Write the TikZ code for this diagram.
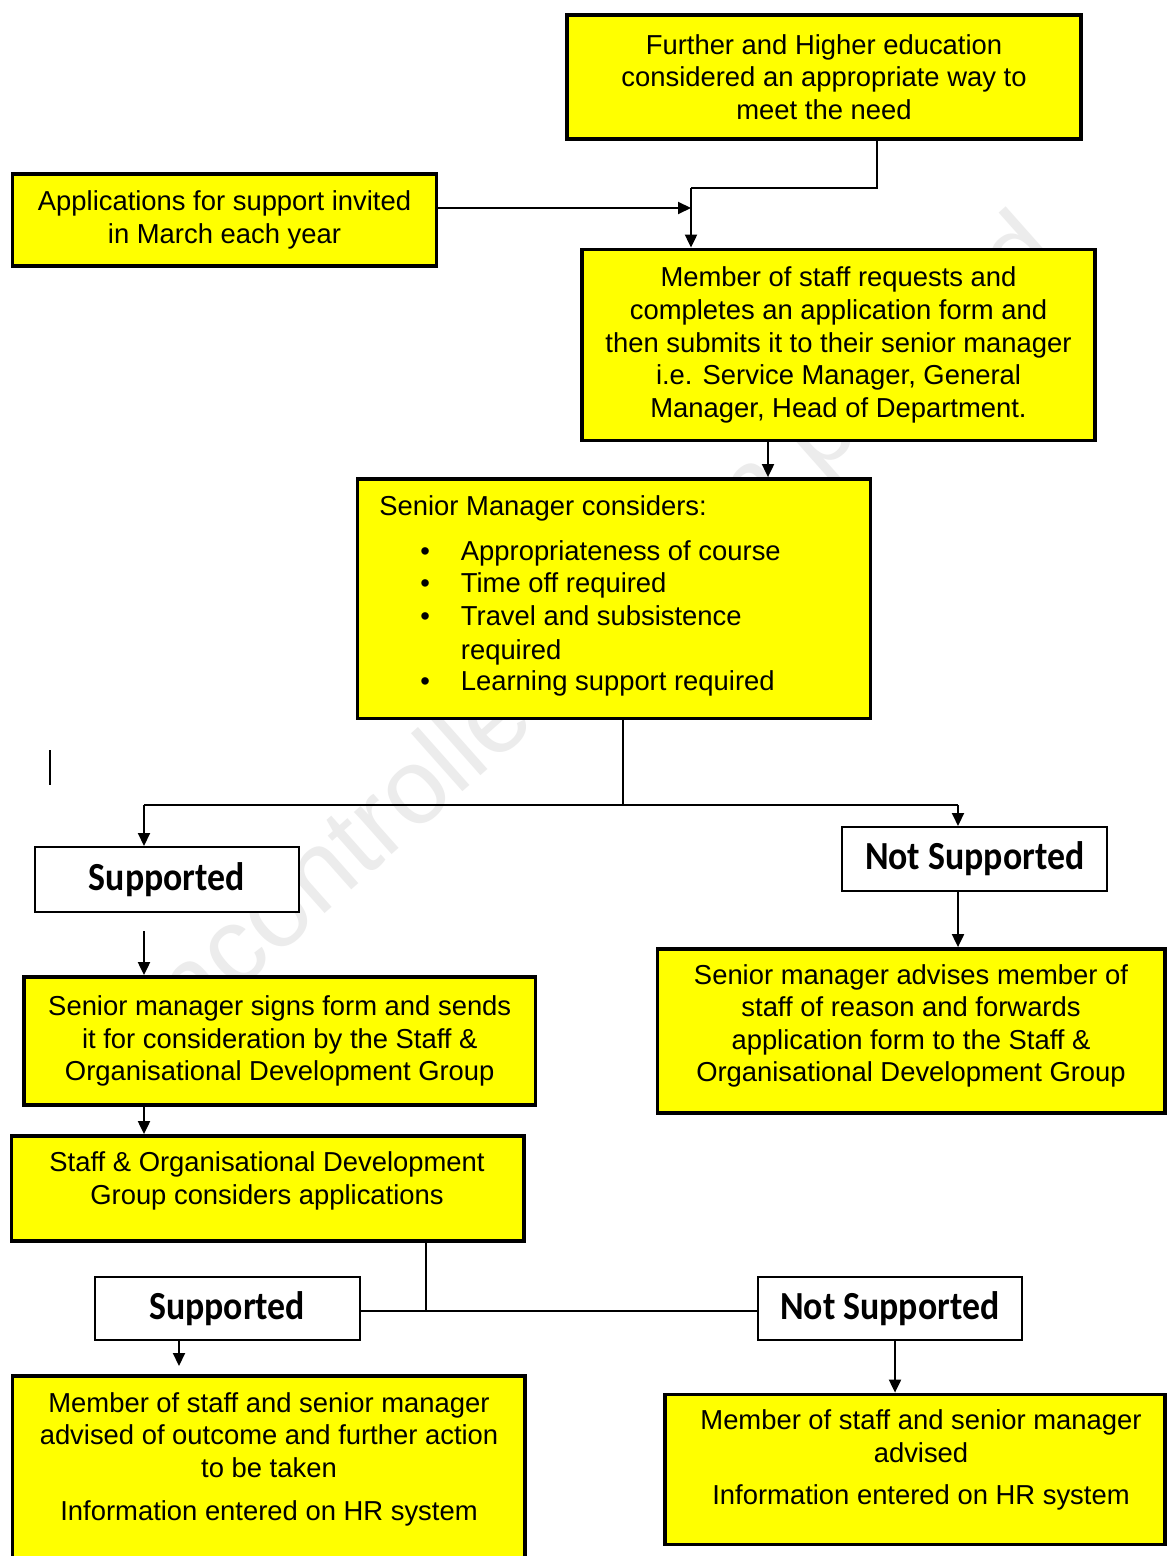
\documentclass[tikz,border=0pt]{standalone}
\usepackage{fontspec}
\usepackage{graphicx}
\setmainfont{Liberation Sans}
\newfontfamily\lblfont{Carlito}
\usetikzlibrary{arrows.meta}

\definecolor{boxyellow}{RGB}{255,255,0}
\definecolor{wmgray}{RGB}{236,236,236}

\newcommand\flowfont{\fontsize{13.7pt}{16.3pt}\selectfont}
\newcommand\lbltext[1]{\scalebox{0.9}[1]{\lblfont\bfseries\fontsize{19.9pt}{22pt}\selectfont #1}}

\tikzset{
  ybox/.style={draw=black, line width=1.9pt, fill=boxyellow, align=center, inner sep=0pt, font=\flowfont},
  wbox/.style={draw=black, line width=1pt, fill=white, inner sep=0pt},
  btext/.style={align=center, inner sep=0pt, font=\flowfont},
  ltext/.style={inner sep=0pt, font=\flowfont, anchor=base west},
  conn/.style={line width=1pt},
  arr/.style={conn, -{Triangle[length=6.5pt,width=6pt]}},
}

\begin{document}
\begin{tikzpicture}[x=0.5pt, y=-0.5pt]
  \useasboundingbox (0,0) rectangle (1167,1556);
  \clip (0,0) rectangle (1167,1556);
  \fill[white] (0,0) rectangle (1167,1556);

  % faint watermark behind the chart
  \node[rotate=41.6, anchor=base, inner sep=0pt, text=wmgray,
        font=\fontsize{53.5pt}{56pt}\selectfont] (wm) at (598,672) {Uncontrolled when printed};

  % boxes
  \node[ybox, minimum width=257pt, minimum height=62pt] (A) at (824,77)
    {Further and Higher education\\considered an appropriate way to\\meet the need};
  \node[ybox, minimum width=212pt, minimum height=46pt] (B) at (224.5,220)
    {Applications for support invited\\in March each year};
  \node[ybox, minimum width=256.5pt, minimum height=95.5pt] (C) at (838.5,345)
    {Member of staff requests and\\completes an application form and\\then submits it to their senior manager\\i.e. Service Manager, General\\Manager, Head of Department.};

  \node[ybox, minimum width=256.5pt, minimum height=119.75pt] (D) at (614,598.75) {};
  \node[ltext] (D0) at (379,515) {Senior Manager considers:};
  \node[ltext] (D1) at (420,560) {\makebox[20.25pt][l]{•}Appropriateness of course};
  \node[ltext] (D2) at (420,592) {\makebox[20.25pt][l]{•}Time off required};
  \node[ltext] (D3) at (420,625) {\makebox[20.25pt][l]{•}Travel and subsistence};
  \node[ltext] (D3b) at (460.5,659) {required};
  \node[ltext] (D4) at (420,690) {\makebox[20.25pt][l]{•}Learning support required};

  \node[wbox, minimum width=131.75pt, minimum height=32.25pt] (E) at (166.75,879.25) {\lbltext{Supported}};
  \node[wbox, minimum width=132.85pt, minimum height=32pt] (F) at (974.6,859) {\lbltext{Not Supported}};

  \node[ybox, minimum width=255.75pt, minimum height=64pt] (G) at (279.75,1041)
    {Senior manager signs form and sends\\it for consideration by the Staff \&\\Organisational Development Group};

  \node[ybox, minimum width=253.75pt, minimum height=82pt] (H) at (911.25,1031) {};
  \node[btext] (Ht) at (911,1026)
    {Senior manager advises member of\\staff of reason and forwards\\application form to the Staff \&\\Organisational Development Group};

  \node[ybox, minimum width=256.25pt, minimum height=52.5pt] (I) at (267.75,1188.5) {};
  \node[btext] (It) at (267,1181)
    {Staff \& Organisational Development\\Group considers applications};

  \node[wbox, minimum width=132.25pt, minimum height=31.75pt] (J) at (227.25,1308.25) {\lbltext{Supported}};
  \node[wbox, minimum width=132.25pt, minimum height=31.75pt] (K) at (889.75,1308.25) {\lbltext{Not Supported}};

  \node[ybox, minimum width=256.25pt, minimum height=102pt] (L) at (268.75,1478) {};
  \node[btext] (Lt) at (269,1459)
    {Member of staff and senior manager\\advised of outcome and further action\\to be taken\\[5pt]Information entered on HR system};

  \node[ybox, minimum width=250pt, minimum height=75pt] (M) at (915,1469.5) {};
  \node[btext] (Mt) at (921,1460)
    {Member of staff and senior manager\\advised\\[5pt]Information entered on HR system};

  % junction points
  \coordinate (j1) at (691,188);
  \coordinate (j2) at (623,805);
  \coordinate (jL) at (144,805);
  \coordinate (jR) at (958,805);
  \coordinate (s1) at (50,750);
  \coordinate (s2) at (50,785);
  \coordinate (g0) at (144,931);
  \coordinate (j3) at (426,1311);
  \coordinate (j4) at (179,1366);
  \coordinate (j5) at (895,1311);

  % connectors
  \draw[conn] ([xshift=26.5pt]A.south) |- (j1);
  \draw[arr] (j1) -- (j1 |- C.north);
  \draw[arr] ([yshift=6pt]B.east) -- ([yshift=6pt]B.east -| j1);
  \draw[arr] ([xshift=-35.25pt]C.south) -- ([xshift=-35.25pt]C.south |- D.north);
  \draw[conn] ([xshift=4.5pt]D.south) -- (j2);
  \draw[conn] (jL) -- (jR);
  \draw[arr] (jL) -- (jL |- E.north);
  \draw[arr] (jR) -- (jR |- F.north);
  \draw[conn] (s1) -- (s2);
  \draw[arr] (g0) -- (g0 |- G.north);
  \draw[arr] (jR |- F.south) -- (jR |- H.north);
  \draw[arr] (g0 |- G.south) -- (g0 |- I.north);
  \draw[conn] (j3 |- I.south) -- (j3);
  \draw[conn] (J.east |- j3) -- (K.west |- j3);
  \draw[arr] (j4 |- J.south) -- (j4);
  \draw[arr] (j5 |- K.south) -- (j5 |- M.north);
\end{tikzpicture}
\end{document}
